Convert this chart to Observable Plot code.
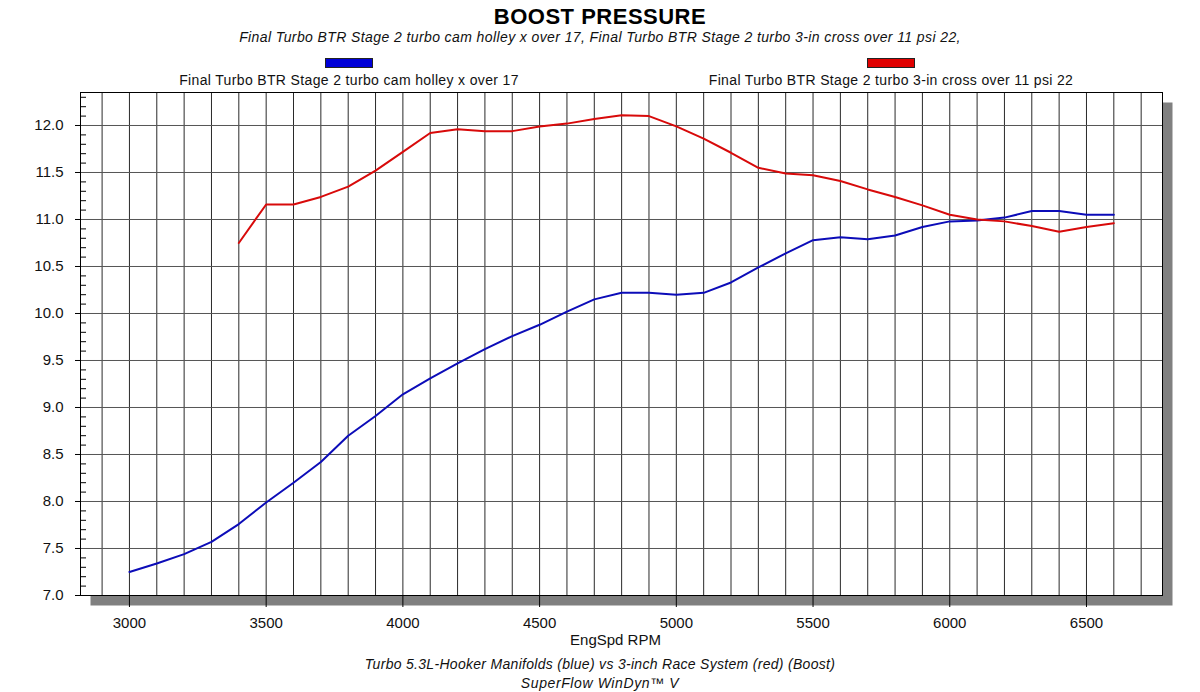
<!DOCTYPE html>
<html><head><meta charset="utf-8">
<script src="https://cdn.jsdelivr.net/npm/d3@7"></script>
<script src="https://cdn.jsdelivr.net/npm/@observablehq/plot@0.6"></script>
<style>
body{margin:0;background:#fff;font-family:"Liberation Sans",Arial,sans-serif;}
#wrap{position:relative;width:1200px;height:692px;overflow:hidden;background:#fff;}
.t{position:absolute;left:0;width:1200px;text-align:center;white-space:nowrap;color:#000;line-height:1;}
#title{top:6px;font-size:22px;font-weight:bold;letter-spacing:0.5px;}
#sub{top:30px;font-size:14px;font-style:italic;letter-spacing:0.4px;color:#111;}
#cap1{top:657px;font-size:14px;font-style:italic;letter-spacing:0.3px;color:#111;}
#cap2{top:676px;font-size:14px;font-style:italic;letter-spacing:0.6px;color:#111;}
.leg{position:absolute;top:58px;width:500px;text-align:center;white-space:nowrap;font-size:14px;line-height:1;letter-spacing:0.35px;color:#111;}
.sw{width:46px;height:8px;border:1px solid #222;margin:0 auto 5px auto;}
#chart{position:absolute;left:0;top:80px;}
</style></head>
<body><div id="wrap">
<div class="t" id="title"></div>
<div class="t" id="sub"></div>
<div id="legend"></div>
<div id="chart"></div>
<div class="t" id="cap1"></div>
<div class="t" id="cap2"></div>
</div>
<script>
const title = "BOOST PRESSURE";
const subtitle = "Final Turbo BTR Stage 2 turbo cam holley x over 17, Final Turbo BTR Stage 2 turbo 3-in cross over 11 psi 22,";
const caption1 = "Turbo 5.3L-Hooker Manifolds (blue) vs 3-inch Race System (red) (Boost)";
const caption2 = "SuperFlow WinDyn\u2122 V";
const xLabel = "EngSpd RPM";

const seriesNames = ["Final Turbo BTR Stage 2 turbo cam holley x over 17", "Final Turbo BTR Stage 2 turbo 3-in cross over 11 psi 22"];
const seriesColors = ["#0c0cb8", "#d80a0a"];
const swatchColors = ["#0000d8", "#e00000"];
const legendCenters = [349, 891];

const rpmBlue = [3000,3100,3200,3300,3400,3500,3600,3700,3800,3900,4000,4100,4200,4300,4400,4500,4600,4700,4800,4900,5000,5100,5200,5300,5400,5500,5600,5700,5800,5900,6000,6100,6200,6300,6400,6500,6600];
const boostBlue = [7.25,7.34,7.44,7.57,7.76,7.99,8.20,8.42,8.70,8.91,9.14,9.31,9.47,9.62,9.76,9.88,10.02,10.15,10.22,10.22,10.20,10.22,10.33,10.49,10.64,10.78,10.81,10.79,10.83,10.92,10.98,10.99,11.02,11.09,11.09,11.05,11.05];
const rpmRed = [3400,3500,3600,3700,3800,3900,4000,4100,4200,4300,4400,4500,4600,4700,4800,4900,5000,5100,5200,5300,5400,5500,5600,5700,5800,5900,6000,6100,6200,6300,6400,6500,6600];
const boostRed = [10.75,11.16,11.16,11.24,11.35,11.52,11.72,11.92,11.96,11.94,11.94,11.99,12.02,12.07,12.11,12.10,11.99,11.86,11.71,11.55,11.49,11.47,11.41,11.32,11.24,11.15,11.05,11.00,10.98,10.93,10.87,10.92,10.96];

const xTicks = [3000,3500,4000,4500,5000,5500,6000,6500];
const yTicks = [7.0,7.5,8.0,8.5,9.0,9.5,10.0,10.5,11.0,11.5,12.0];
const yTickLabels = ["7.0","7.5","8.0","8.5","9.0","9.5","10.0","10.5","11.0","11.5","12.0"];

document.getElementById("title").textContent = title;
document.getElementById("sub").textContent = subtitle;
document.getElementById("cap1").textContent = caption1;
document.getElementById("cap2").textContent = caption2;

const legend = document.getElementById("legend");
seriesNames.forEach((n, i) => {
  const d = document.createElement("div");
  d.className = "leg";
  d.style.left = (legendCenters[i] - 250) + "px";
  const s = document.createElement("div");
  s.className = "sw";
  s.style.background = swatchColors[i];
  d.appendChild(s);
  d.appendChild(document.createTextNode(n));
  legend.appendChild(d);
});

const blueData = rpmBlue.map((r, i) => ({rpm: r, v: boostBlue[i]}));
const redData = rpmRed.map((r, i) => ({rpm: r, v: boostRed[i]}));
const xGrid = d3.range(2900, 6701, 100);
const yMinor = d3.range(71, 124).map(d => d / 10).filter(d => Math.round(d * 10) % 5 !== 0);

const chart = Plot.plot({
  width: 1200, height: 570,
  marginTop: 12, marginRight: 38, marginBottom: 55, marginLeft: 80,
  style: {fontFamily: "'Liberation Sans', Arial, sans-serif", fontSize: "15px", background: "transparent", color: "#111"},
  x: {domain: [2821, 6778]},
  y: {domain: [7, 12.351]},
  marks: [
    Plot.frame({fill: "#808080", stroke: null, dx: 10, dy: 10}),
    Plot.frame({fill: "#fff", stroke: null}),
    Plot.ruleX(xGrid, {stroke: "#2a2a2a", strokeWidth: 1}),
    Plot.ruleY(yTicks, {stroke: "#555", strokeWidth: 1}),
    Plot.line(blueData, {x: "rpm", y: "v", stroke: seriesColors[0], strokeWidth: 2}),
    Plot.line(redData, {x: "rpm", y: "v", stroke: seriesColors[1], strokeWidth: 2}),
    Plot.frame({stroke: "#000", strokeWidth: 1}),
    Plot.axisY(yMinor, {tickSize: 6, dx: 6, tickFormat: () => "", label: null, stroke: "#000"}),
    Plot.axisY(yTicks, {tickSize: 5, tickPadding: 12, tickFormat: d => yTickLabels[yTicks.indexOf(d)], label: null, stroke: "#000"}),
    Plot.axisX(xTicks, {tickSize: 12, tickPadding: 10, tickFormat: d => String(d), label: null, stroke: "#000"}),
    Plot.text([xLabel], {text: d => d, frameAnchor: "bottom", dy: 49, dx: -6, fontSize: 15, fill: "#111"})
  ]
});
document.getElementById("chart").appendChild(chart);
</script>
</body></html>
